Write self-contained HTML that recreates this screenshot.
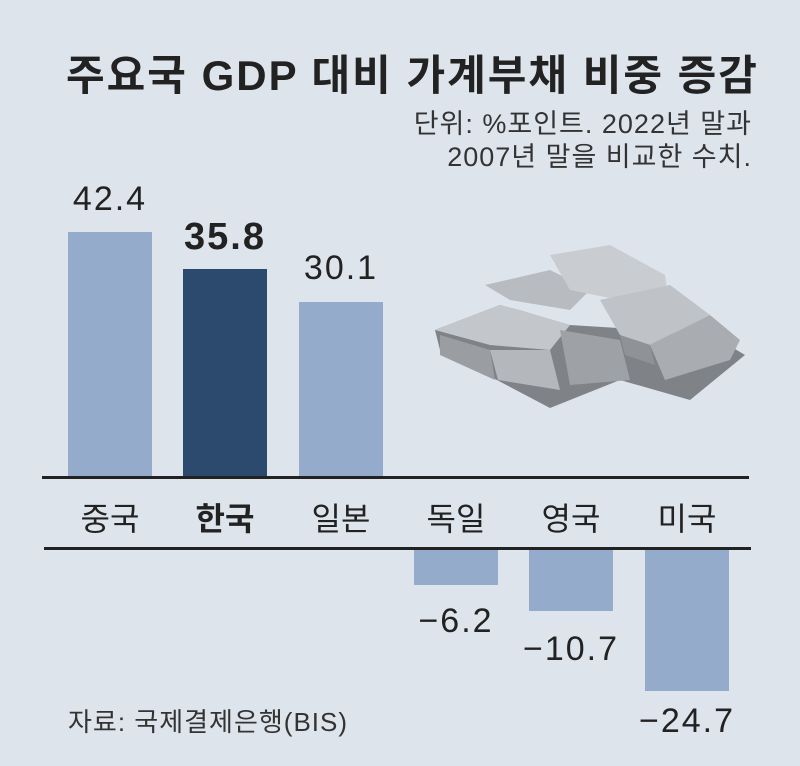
<!DOCTYPE html>
<html><head><meta charset="utf-8"><style>
body{margin:0;width:800px;height:766px;background:#dde4ec;overflow:hidden;font-family:"Liberation Sans","Noto Sans CJK KR",sans-serif;color:#222}
.a{position:absolute;white-space:nowrap}
.bar{position:absolute;background:#95abcb}
.v{position:absolute;width:120px;text-align:center;font-size:34px;letter-spacing:2px}
.l{position:absolute;width:120px;text-align:center;font-size:32px;top:494px}
</style></head><body>
<div class="a" style="left:66px;top:42px;font-size:42px;font-weight:bold;letter-spacing:2px">주요국 GDP 대비 가계부채 비중 증감</div>
<div class="a" style="right:48px;top:108px;font-size:27px;color:#333;text-align:right;line-height:33px;letter-spacing:1px">단위: %포인트. 2022년 말과<br>2007년 말을 비교한 수치.</div>

<div class="bar" style="left:68px;top:232px;width:84px;height:245px"></div>
<div class="bar" style="left:183px;top:269px;width:84px;height:208px;background:#2b4a6e"></div>
<div class="bar" style="left:299px;top:302px;width:84px;height:175px"></div>
<div class="bar" style="left:414px;top:548px;width:84px;height:37px"></div>
<div class="bar" style="left:529px;top:548px;width:84px;height:63px"></div>
<div class="bar" style="left:645px;top:548px;width:84px;height:143px"></div>

<div class="a" style="left:42px;top:476px;width:707px;height:3px;background:#222"></div>
<div class="a" style="left:44px;top:547px;width:707px;height:3px;background:#222"></div>

<div class="v" style="left:50px;top:180px">42.4</div>
<div class="v" style="left:165px;top:216px;font-weight:bold;font-size:38px">35.8</div>
<div class="v" style="left:281px;top:249px">30.1</div>
<div class="v" style="left:396px;top:602px">−6.2</div>
<div class="v" style="left:511px;top:630px">−10.7</div>
<div class="v" style="left:627px;top:702px">−24.7</div>

<div class="l" style="left:50px">중국</div>
<div class="l" style="left:165px;font-weight:bold">한국</div>
<div class="l" style="left:281px">일본</div>
<div class="l" style="left:396px">독일</div>
<div class="l" style="left:511px">영국</div>
<div class="l" style="left:627px">미국</div>

<div class="a" style="left:68px;top:702px;font-size:26px;color:#333;letter-spacing:1px">자료: 국제결제은행(BIS)</div>

<svg class="a" style="left:420px;top:230px" width="340" height="180" viewBox="0 0 340 180">
<polygon points="15,100 80,75 150,95 230,100 300,110 325,125 270,170 200,150 130,178 20,120" fill="#7f8287"/>
<polygon points="15,100 80,75 100,80 150,95 130,120 70,115" fill="#c3c6ca"/>
<polygon points="20,105 70,120 75,150 20,125" fill="#9a9ea3"/>
<polygon points="70,120 130,120 140,160 78,150" fill="#b4b7bb"/>
<polygon points="65,55 130,40 170,60 150,80 90,70" fill="#b8bbbf"/>
<polygon points="130,25 190,15 245,45 250,80 200,70 150,60" fill="#c9ccd0"/>
<polygon points="180,70 250,55 290,85 230,115 200,105" fill="#bfc2c6"/>
<polygon points="200,105 230,115 235,135 205,125" fill="#8f9297"/>
<polygon points="230,115 290,85 320,110 310,130 245,150" fill="#a9acb0"/>
<polygon points="140,100 200,110 210,150 150,155" fill="#9ea1a6"/>
</svg>
</body></html>
